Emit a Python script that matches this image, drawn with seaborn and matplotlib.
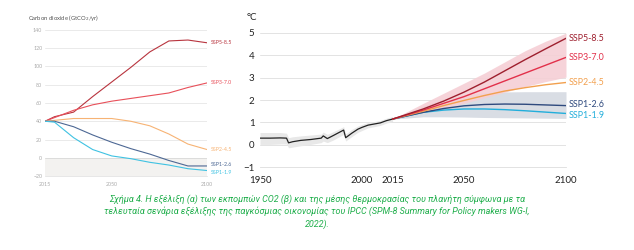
import numpy as np
import pandas as pd
import matplotlib
matplotlib.use("Agg")
import matplotlib.pyplot as plt
import seaborn as sns

# ---------------- data ----------------
co2_years = [2015, 2020, 2030, 2040, 2050, 2060, 2070, 2080, 2090, 2100]
co2_ssp585 = [40, 45, 50, 67, 83, 99, 116, 128, 129, 126]
co2_ssp370 = [40, 44, 52, 58, 62, 65, 68, 71, 77, 82]
co2_ssp245 = [40, 41, 43, 43, 43, 40, 35, 26, 15, 9]
co2_ssp126 = [40, 40, 34, 25, 17, 10, 4, -3, -9, -9]
co2_ssp119 = [40, 39, 22, 9, 2, -1, -5, -8, -12, -14]

hist_years = [1950, 1955, 1960, 1963, 1964, 1966, 1970, 1975, 1980, 1981, 1983,
              1986, 1991, 1992, 1995, 1998, 2000, 2003, 2006, 2009, 2012, 2015]
hist_temp = [0.30, 0.30, 0.31, 0.30, 0.09, 0.14, 0.20, 0.24, 0.30, 0.40, 0.28,
             0.42, 0.66, 0.32, 0.52, 0.70, 0.78, 0.88, 0.93, 0.98, 1.08, 1.15]
hist_lo = [0.02, 0.02, 0.04, 0.04, -0.13, -0.10, -0.04, 0.02, 0.10, 0.17, 0.10,
           0.22, 0.47, 0.17, 0.37, 0.56, 0.64, 0.76, 0.81, 0.87, 0.97, 1.04]
hist_hi = [0.55, 0.55, 0.55, 0.52, 0.32, 0.36, 0.40, 0.44, 0.48, 0.57, 0.47,
           0.59, 0.81, 0.49, 0.69, 0.84, 0.91, 1.00, 1.04, 1.09, 1.19, 1.26]

proj_years = [2015, 2030, 2040, 2050, 2060, 2070, 2080, 2090, 2100]
t_ssp585 = [1.15, 1.60, 1.95, 2.35, 2.80, 3.30, 3.80, 4.28, 4.75]
t_ssp370 = [1.15, 1.55, 1.85, 2.15, 2.50, 2.85, 3.20, 3.55, 3.90]
t_ssp245 = [1.15, 1.50, 1.75, 1.98, 2.20, 2.40, 2.55, 2.68, 2.78]
t_ssp126 = [1.15, 1.45, 1.62, 1.74, 1.80, 1.82, 1.81, 1.78, 1.75]
t_ssp119 = [1.15, 1.45, 1.55, 1.60, 1.60, 1.57, 1.52, 1.46, 1.40]
red_band_hi = [1.15, 1.85, 2.30, 2.75, 3.20, 3.70, 4.20, 4.62, 4.98]
red_band_lo = [1.15, 1.45, 1.65, 1.85, 2.10, 2.35, 2.60, 2.82, 3.02]
grey_band_hi = [1.15, 1.75, 2.05, 2.22, 2.32, 2.36, 2.37, 2.37, 2.37]
grey_band_lo = [1.15, 1.25, 1.25, 1.24, 1.22, 1.21, 1.20, 1.19, 1.18]

scenarios = ["SSP5-8.5", "SSP3-7.0", "SSP2-4.5", "SSP1-2.6", "SSP1-1.9"]
colors_right = ["#9e1f2e", "#e2304a", "#f2a04e", "#2f4a7e", "#22aedb"]
colors_left = ["#b8343e", "#e8505a", "#f7b374", "#4d6894", "#3fc2e2"]

caption = ("Σχήμα 4. Η εξέλιξη (α) των εκπομπών CO2 (β) και της μέσης θερμοκρασίας του πλανήτη σύμφωνα με τα\n"
           "τελευταία σενάρια εξέλιξης της παγκόσμιας οικονομίας του IPCC (SPM-8 Summary for Policy makers WG-I,\n"
           "2022).")

# ---------------- figure ----------------
sns.set_theme(style="white")
plt.rcParams["font.family"] = ["Lato", "DejaVu Sans"]

fig = plt.figure(figsize=(6.34, 2.5), dpi=100)

# ---- left panel (CO2) ----
axL = fig.add_axes([45/634, 1-176/250, 162/634, 146/250])
co2_df = pd.DataFrame({
    "year": co2_years * 5,
    "value": co2_ssp585 + co2_ssp370 + co2_ssp245 + co2_ssp126 + co2_ssp119,
    "scenario": sum([[s]*len(co2_years) for s in scenarios], []),
})
axL.axhspan(-20, 0, color="#f3f2f0", zorder=0, lw=0)
for v in [-20, 0, 20, 40, 60, 80, 100, 120, 140]:
    axL.axhline(v, color="#e6e6e6" if v != 0 else "#d8d8d8", lw=0.6, zorder=0.5)
sns.lineplot(data=co2_df, x="year", y="value", hue="scenario", hue_order=scenarios,
             palette=colors_left, ax=axL, legend=False, lw=0.8, zorder=3)
axL.set_xlim(2015, 2100)
axL.set_ylim(-20, 140)
axL.set_xticks([2015, 2050, 2100])
axL.set_xticks(list(range(2020, 2100, 10)), minor=True)
axL.set_yticks([-20, 0, 20, 40, 60, 80, 100, 120, 140])
axL.tick_params(axis="both", labelsize=3.8, colors="#aaaaaa", length=0, pad=2)
axL.tick_params(axis="x", which="both", length=2, width=0.4, color="#cccccc", direction="out")
axL.set_xlabel("")
axL.set_ylabel("")
for sp in ["top", "right", "left"]:
    axL.spines[sp].set_visible(False)
axL.spines["bottom"].set_color("#dddddd")
axL.spines["bottom"].set_linewidth(0.5)
fig.text(28/634, 1-18/250, "Carbon dioxide (GtCO$_2$/yr)", fontsize=4.2, color="#555555",
         va="center", ha="left")
for s, c, vals in zip(scenarios, colors_left,
                      [co2_ssp585, co2_ssp370, co2_ssp245, co2_ssp126, co2_ssp119]):
    yoff = {"SSP1-2.6": 1.5, "SSP1-1.9": -2.5}.get(s, 0)
    axL.text(2102, vals[-1] + yoff, s, fontsize=3.8, color=c, va="center", ha="left",
             clip_on=False)

# ---- right panel (temperature) ----
axR = fig.add_axes([260/634, 1-167.3/250, 306/634, 134.6/250])
for v in range(-1, 6):
    axR.axhline(v, color="#e3e3e3", lw=0.7, zorder=0.5)
axR.fill_between(hist_years, hist_lo, hist_hi, color="#e8e8e8", lw=0, zorder=1)
axR.fill_between(proj_years, grey_band_lo, grey_band_hi, color="#d9dde4", lw=0, zorder=1.2)
axR.fill_between(proj_years, red_band_lo, red_band_hi, color="#f5cfd5", lw=0, alpha=0.9, zorder=1.4)

hist_df = pd.DataFrame({"year": hist_years, "temp": hist_temp})
sns.lineplot(data=hist_df, x="year", y="temp", color="#222222", lw=0.9, ax=axR, zorder=3)

proj_df = pd.DataFrame({
    "year": proj_years * 5,
    "temp": t_ssp585 + t_ssp370 + t_ssp245 + t_ssp126 + t_ssp119,
    "scenario": sum([[s]*len(proj_years) for s in scenarios], []),
})
sns.lineplot(data=proj_df, x="year", y="temp", hue="scenario", hue_order=scenarios[::-1],
             palette=colors_right[::-1], ax=axR, legend=False, lw=1.0, zorder=4)

axR.set_xlim(1950, 2100)
axR.set_ylim(-1, 5)
axR.set_xticks([1950, 2000, 2015, 2050, 2100])
axR.set_xticks([1960, 1970, 1980, 1990, 2010, 2020, 2030, 2040, 2060, 2070, 2080, 2090],
               minor=True)
axR.set_yticks(range(-1, 6))
axR.tick_params(axis="both", labelsize=7, colors="#222222", pad=2)
axR.tick_params(axis="y", length=0, pad=4)
axR.tick_params(axis="x", which="both", length=3, width=0.5, color="#cccccc", direction="out", pad=3)
for lab in axR.get_xticklabels() + axR.get_yticklabels():
    lab.set_color("#222222")
axR.set_xlabel("")
axR.set_ylabel("")
for sp in ["top", "right", "left"]:
    axR.spines[sp].set_visible(False)
axR.spines["bottom"].set_color("#dddddd")
axR.spines["bottom"].set_linewidth(0.6)
fig.text(252/634, 1-17/250, "°C", fontsize=7, color="#222222", va="center", ha="center")

label_y = {"SSP5-8.5": 4.75, "SSP3-7.0": 3.9, "SSP2-4.5": 2.78, "SSP1-2.6": 1.78, "SSP1-1.9": 1.32}
for s, c in zip(scenarios, colors_right):
    axR.text(2101.5, label_y[s], s, fontsize=6.4, color=c, va="center", ha="left", clip_on=False)

# ---- caption ----
fig.text(0.5, 1-194/250, caption, fontsize=6.45, color="#1fae4b", style="italic",
         ha="center", va="top", linespacing=1.42,
         family=["Roboto", "DejaVu Sans"])

fig.savefig("out.png", dpi=100, facecolor="white")
